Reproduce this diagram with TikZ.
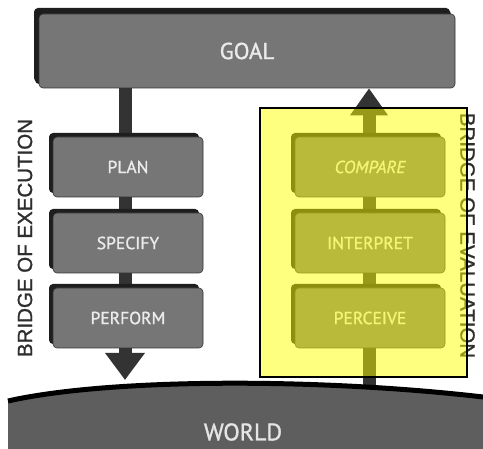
\documentclass[tikz,border=0pt]{standalone}
\usepackage{fontspec}
\setmainfont{Liberation Sans}[FakeBold=1.2]
\newfontfamily\boxfont{PT Sans}[FakeBold=1.2]
\usetikzlibrary{shadows,arrows.meta}
\definecolor{boxgray}{HTML}{767676}
\definecolor{shadowgray}{HTML}{1E1E1E}
\definecolor{stemgray}{HTML}{333333}
\definecolor{worldgray}{HTML}{5E5E5E}
\definecolor{labelgray}{HTML}{2E2E2E}
\definecolor{hlyellow}{HTML}{FFFF00}
\begin{document}
\begin{tikzpicture}[x=1pt,y=-1pt,
  box/.style={draw=black!80, line width=0.6pt, fill=boxgray, rounded corners=4pt,
    text=white!92!black, font=\boxfont\fontsize{17.5}{17.5}\selectfont,
    minimum width=150pt, minimum height=60pt, inner sep=0pt,
    general shadow={fill=shadowgray, shadow xshift=-4pt, shadow yshift=4pt}},
  stem/.style={draw=stemgray, line width=13pt},
  bridge/.style={text=labelgray, font=\fontsize{20.5}{20.5}\selectfont, inner sep=0pt}
]
\useasboundingbox (0,0) rectangle (483,449);
\fill[white] (0,0) rectangle (483,449);

% anchor points of the connectors
\coordinate (ltip) at (125,380);
\coordinate (rbase) at (369,390);

% goal box
\node[box, minimum width=416pt, minimum height=74pt, font=\boxfont\fontsize{23}{23}\selectfont,
  general shadow={fill=shadowgray, shadow xshift=-5pt, shadow yshift=6pt}]
  (goal) at (247,51) {GOAL};

% stems behind the step boxes
\draw[stem, -{Triangle[width=38pt,length=27pt]}] (goal.south -| ltip) -- (ltip);
\draw[stem, -{Triangle[width=36pt,length=27pt]}] (rbase) -- (goal.south -| rbase);

% execution steps
\node[box] (plan) at (128,167) {PLAN};
\node[box] (specify) at (128,243) {SPECIFY};
\node[box] (perform) at (128,318) {PERFORM};

% evaluation steps
\node[box, font=\boxfont\itshape\fontsize{17.5}{17.5}\selectfont] (compare) at (370,167) {COMPARE};
\node[box] (interpret) at (370,243) {INTERPRET};
\node[box] (perceive) at (370,318) {PERCEIVE};

% world
\fill[worldgray] (8,449) -- (8,401) .. controls (110,378) and (320,378) .. (483,397) -- (483,449) -- cycle;
\draw[black, line width=5pt] (8,401) .. controls (110,378) and (320,378) .. (483,397);
\node[text=white!90!black, font=\boxfont\fontsize{24}{24}\selectfont] (world) at (243,432) {WORLD};

% bridge labels
\node[bridge, rotate=90] (bexec) at (25,238) {BRIDGE OF EXECUTION};
\node[bridge, rotate=-90] (beval) at (467.5,235.5) {BRIDGE OF EVALUATION};

% highlight
\draw[black, line width=2pt, fill=hlyellow, fill opacity=0.5] (260,108) rectangle (467,377);
\end{tikzpicture}
\end{document}
